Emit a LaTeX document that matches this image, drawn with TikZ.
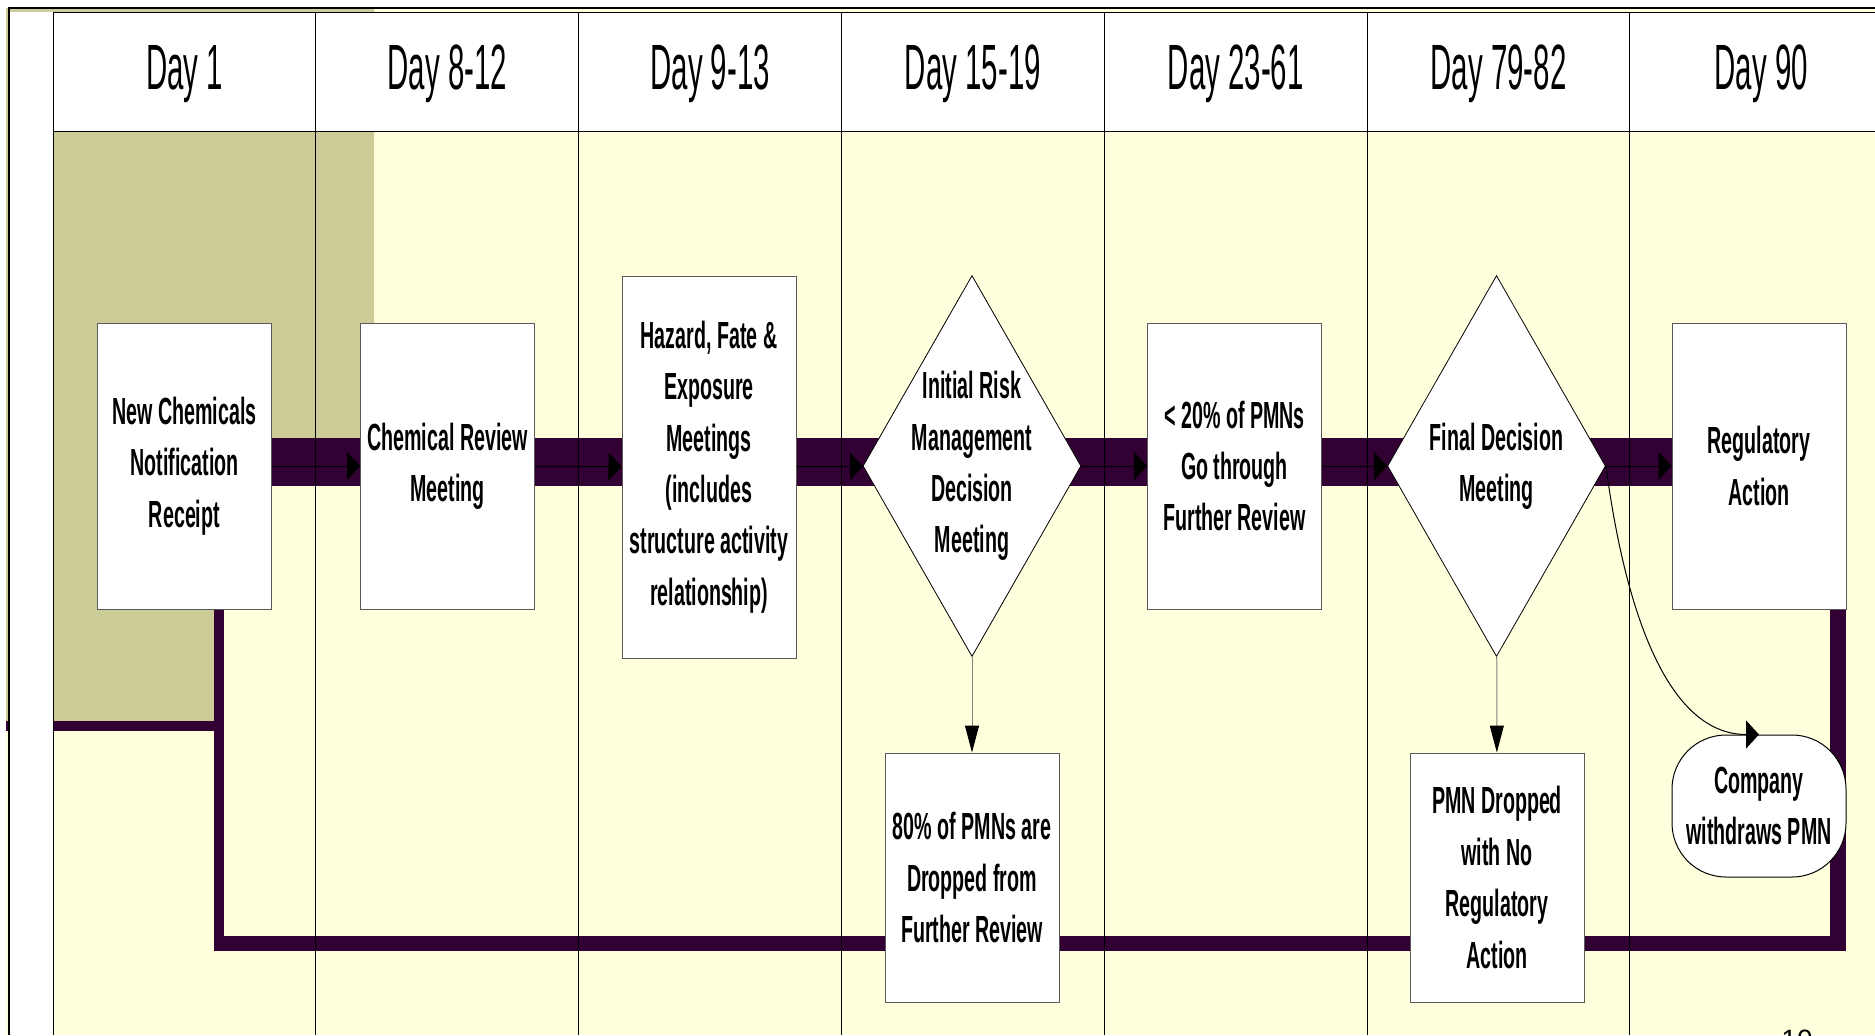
\documentclass[tikz,border=0pt]{standalone}
\usepackage{fontspec}
\setmainfont{Liberation Sans}
\newfontfamily\hdrfont[FakeStretch=0.46]{Liberation Sans}
\newfontfamily\boxfont[FakeStretch=0.52]{Liberation Sans}
\usetikzlibrary{shapes.geometric,arrows.meta,backgrounds}
\definecolor{lanebg}{HTML}{FFFFDD}
\definecolor{stagebg}{HTML}{CCCC99}
\definecolor{flowband}{HTML}{330033}

\begin{document}
\begin{tikzpicture}[x=0.5pt, y=-0.5pt,
    stepbox/.style={draw=black!65, line width=0.5pt, fill=white, align=center,
        minimum width=87pt, minimum height=143pt, inner sep=2pt,
        font=\boxfont\bfseries\fontsize{18.9}{25.7}\selectfont},
    decide/.style={stepbox, diamond, draw=black, line width=0.4pt,
        minimum width=109pt, minimum height=190.5pt, inner sep=-20pt},
    hdr/.style={font=\hdrfont\fontsize{32}{38}\selectfont},
    flow/.style={-{Triangle[length=6.5pt,width=14pt]}, line width=0.5pt},
    drop/.style={-{Triangle[length=13.5pt,width=7pt,color=black]}, draw=black!50, line width=0.5pt},
    band/.style={draw=flowband, line width=24pt},
    ret/.style={draw=flowband}]
    \useasboundingbox (0,0) rectangle (1875,1035);

    % column headings
    \foreach \i/\lbl in {0/Day 1, 1/Day 8-12, 2/Day 9-13, 3/Day 15-19, 4/Day 23-61, 5/Day 79-82, 6/Day 90} {
        \node[hdr] (day\i) at (\i*262.8+184.5, 74) {\lbl};
    }

    % main row
    \node[stepbox] (new) at (184.5, 466) {New Chemicals\\Notification\\Receipt};
    \node[stepbox] (crm) at (447.5, 466) {Chemical Review\\Meeting};
    \node[stepbox, minimum height=191pt] (haz) at (709, 467) {Hazard, Fate \&\\Exposure\\Meetings\\(includes\\structure activity\\relationship)};
    \node[decide] (irm) at (972, 466) {Initial Risk\\Management\\Decision\\Meeting};
    \node[stepbox] (pct) at (1234.5, 466) {< 20\% of PMNs\\Go through\\Further Review};
    \node[decide] (fdm) at (1496.5, 466) {Final Decision\\Meeting};
    \node[stepbox] (reg) at (1759, 466) {Regulatory\\Action};

    % lower row
    \node[stepbox, minimum height=124.5pt] (drop80) at (972, 877.5) {80\% of PMNs are\\Dropped from\\Further Review};
    \node[stepbox, minimum height=124.5pt] (nra) at (1497, 877.5) {PMN Dropped\\with No\\Regulatory\\Action};
    \node[stepbox, draw=black, rounded corners=27pt, minimum height=71pt, inner xsep=0pt] (cw) at (1759, 806) {Company\\withdraws PMN};
    \node[anchor=north, inner sep=0pt, font=\fontsize{14}{16}\selectfont] (pgnum) at (1797, 1030) {10};

    \coordinate (stub) at (6, 726);
    \coordinate (cL) at (219, 943);
    \coordinate (cR) at (1838, 943);

    \begin{pgfonlayer}{background}
        \fill[white] (0,0) rectangle (1875,1035);
        \fill[lanebg] (6,8) rectangle (1875,1035);
        \fill[stagebg] (6,8) -- (374,8) -- (374,462) -- (219,462) -- (219,726) -- (6,726) -- cycle;
        \draw[ret, line width=5pt] (stub) -- ([xshift=2.5pt]stub -| cL);
        \fill[white] (10,12) rectangle (53,1035);
        \filldraw[fill=white, draw=black, line width=0.5pt] (53,12) rectangle (1880,131);
        \draw[line width=0.6pt] (9,1035) -- (9,8) -- (1875,8);
        % purple flow bands
        \draw[band] ([yshift=2pt]new.east) -- ([yshift=2pt]reg.west);
        \draw[ret, line width=7.5pt] ([xshift=-2.5pt]cL) -- ([xshift=4pt]cR);
        \draw[ret, line width=5pt] (new.south -| cL) -- ([yshift=-3.75pt]cL);
        \draw[ret, line width=8pt] (reg.south -| cR) -- ([yshift=-3.75pt]cR);
        \foreach \i in {0,...,6} {
            \draw[line width=0.5pt] (\i*262.8+53, 12) -- (\i*262.8+53, 1035);
        }
    \end{pgfonlayer}

    % connectors
    \draw[flow] (new) -- (crm);
    \draw[flow] (crm) -- (haz);
    \draw[flow] (haz) -- (irm);
    \draw[flow] (irm) -- (pct);
    \draw[flow] (pct) -- (fdm);
    \draw[flow] (fdm) -- (reg);
    \draw[drop] (irm) -- (drop80);
    \draw[drop] (fdm) -- (nra);
    \draw[flow] (fdm.east) .. controls +(20,150) and +(-90,0) .. (cw.north);
\end{tikzpicture}
\end{document}
